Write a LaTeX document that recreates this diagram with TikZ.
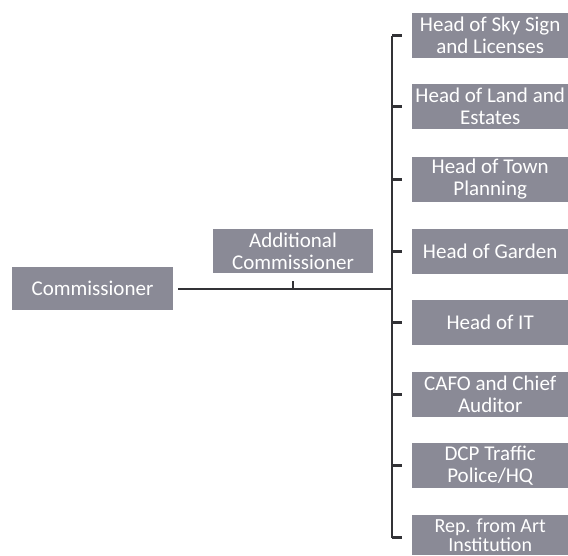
\documentclass[tikz,border=0pt]{standalone}
\usepackage{fontspec}
\setmainfont{Carlito}
\definecolor{boxgrey}{RGB}{138,138,150}
\definecolor{linegrey}{RGB}{50,50,54}

\begin{document}
\begin{tikzpicture}[x=1pt,y=-1pt,
  post/.style={fill=boxgrey, text=white, inner sep=0pt, align=center, minimum height=45pt, font=\fontsize{21}{22}\selectfont},
  head/.style={post, anchor=west, minimum width=156pt},
  link/.style={draw=linegrey, line width=2.5pt}]
\useasboundingbox (0,0) rectangle (568,555);
\node[post, minimum width=161pt, minimum height=43pt] (comm) at (92.5,288.5) {Commissioner};
\node[post, minimum width=160pt, minimum height=44pt] (addl) at (293,251) {Additional\\Commissioner};
\node[head] (h1) at (412,35.5) {Head of Sky Sign\\and Licenses};
\node[head] (h2) at (412,106.5) {Head of Land and\\Estates};
\node[head] (h3) at (412,179.5) {Head of Town\\Planning};
\node[head] (h4) at (412,251.5) {Head of Garden};
\node[head] (h5) at (412,322.5) {Head of IT};
\node[head] (h6) at (412,394.5) {CAFO and Chief\\Auditor};
\node[head] (h7) at (412,465.5) {DCP Traffic\\Police/HQ};
\node[head, minimum height=40pt, font=\fontsize{20}{19}\selectfont] (h8) at (412,535) {Rep. from Art\\Institution};
\coordinate (top) at (392,35.5);
\coordinate (mid) at (392,289);
\coordinate (bot) at (392,537.5);
\draw[link] (top) -- (bot);
\draw[link, shorten <=5pt] (comm.east |- mid) -- (mid);
\draw[link, line width=1.5pt, shorten <=8pt] (addl.south) -- (addl.south |- mid);
\draw[link, shorten >=10pt] (top) -- (h1.west);
\draw[link, shorten >=10pt] (392,106.5) -- (h2.west);
\draw[link, shorten >=10pt] (392,179.5) -- (h3.west);
\draw[link, shorten >=10pt] (392,251.5) -- (h4.west);
\draw[link, shorten >=10pt] (392,322.5) -- (h5.west);
\draw[link, shorten >=10pt] (392,394.5) -- (h6.west);
\draw[link, shorten >=10pt] (392,465.5) -- (h7.west);
\draw[link, shorten >=10pt] (bot) -- (h8.west |- bot);
\end{tikzpicture}
\end{document}
